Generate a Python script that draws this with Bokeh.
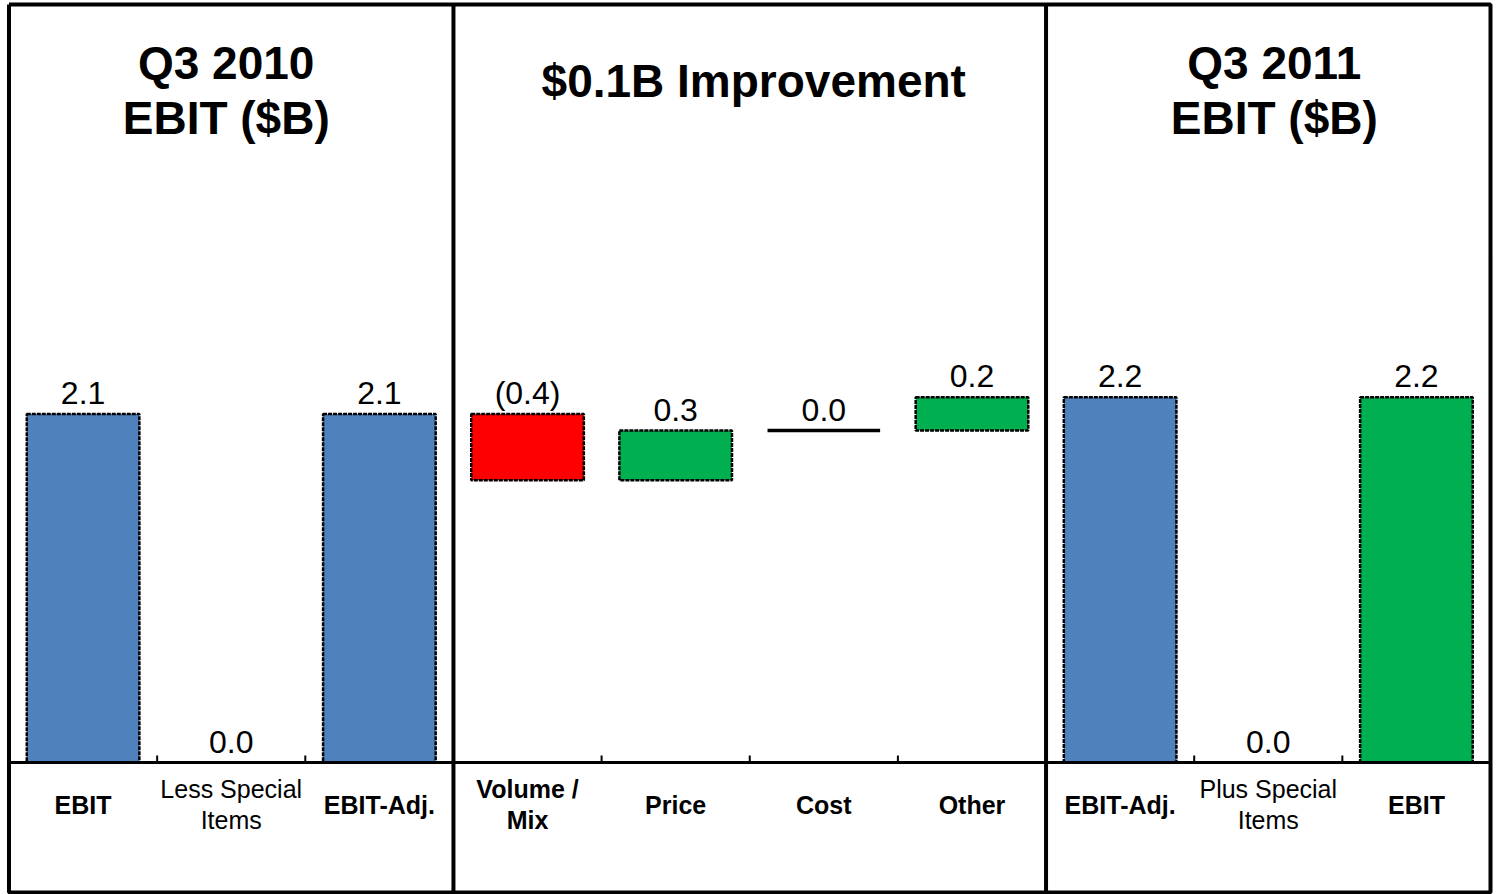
from bokeh.plotting import figure
from bokeh.models import Range1d, ColumnDataSource
from bokeh.core.properties import value
from bokeh.embed import file_html
from bokeh.resources import INLINE

# ---- data ($B) ----
panel_titles = ["Q3 2010\nEBIT ($B)", "$0.1B Improvement", "Q3 2011\nEBIT ($B)"]

q3_2010_labels = ["EBIT", "Less Special\nItems", "EBIT-Adj."]
q3_2010_values = [2.1, 0.0, 2.1]

bridge_labels = ["Volume /\nMix", "Price", "Cost", "Other"]
bridge_values = [-0.4, 0.3, 0.0, 0.2]

q3_2011_labels = ["EBIT-Adj.", "Plus Special\nItems", "EBIT"]
q3_2011_values = [2.2, 0.0, 2.2]

# ---- styling ----
FONT = "Liberation Sans"
BLUE = "#4F81BD"
GREEN = "#00B050"
RED = "#FF0000"

W, H = 1497, 894

# build bar geometry: outer panels rise from zero, the bridge floats from Q3 2010 EBIT-Adj.
xs, bottoms, tops, colors, texts, labels, label_styles = [], [], [], [], [], [], []

def fmt(v):
    return "(%.1f)" % abs(v) if v < 0 else "%.1f" % v

for i, (lab, v) in enumerate(zip(q3_2010_labels, q3_2010_values)):
    xs.append(len(xs)); bottoms.append(0.0); tops.append(v)
    colors.append(BLUE); texts.append(fmt(v)); labels.append(lab)
    label_styles.append("normal" if "Special" in lab else "bold")

running = q3_2010_values[-1]
for lab, v in zip(bridge_labels, bridge_values):
    xs.append(len(xs)); bottoms.append(running); tops.append(running + v)
    running += v
    colors.append(RED if v < 0 else GREEN); texts.append(fmt(v)); labels.append(lab)
    label_styles.append("bold")

for i, (lab, v) in enumerate(zip(q3_2011_labels, q3_2011_values)):
    xs.append(len(xs)); bottoms.append(0.0); tops.append(v)
    colors.append(GREEN if i == len(q3_2011_labels) - 1 else BLUE)
    texts.append(fmt(v)); labels.append(lab)
    label_styles.append("normal" if "Special" in lab else "bold")

n = len(xs)
upper = [max(b, t) for b, t in zip(bottoms, tops)]

# ---- scales: one unit per category, 166 px per $1B ----
px_per_cat = 148.15
px_per_b = 166.0
base_px = 762.0
left_px = 8.5
x0 = -0.5 - left_px / px_per_cat
x1 = x0 + W / px_per_cat
y1 = base_px / px_per_b
y0 = y1 - H / px_per_b

p = figure(width=W, height=H, output_backend="svg", toolbar_location=None,
           x_range=Range1d(x0, x1), y_range=Range1d(y0, y1),
           min_border=0, min_border_left=0, min_border_right=0,
           min_border_top=0, min_border_bottom=0)
p.axis.visible = False
p.grid.visible = False
p.outline_line_color = None
p.background_fill_color = "white"
p.border_fill_color = "white"

def py(px):
    return (base_px - px) / px_per_b

# bars
bar_idx = [i for i in range(n) if abs(tops[i] - bottoms[i]) > 1e-9]
flat_idx = [i for i in range(n) if abs(tops[i] - bottoms[i]) <= 1e-9 and bottoms[i] != 0]
bars = ColumnDataSource(dict(x=[xs[i] for i in bar_idx], bottom=[bottoms[i] for i in bar_idx],
                             top=[tops[i] for i in bar_idx], color=[colors[i] for i in bar_idx]))
p.vbar(x="x", bottom="bottom", top="top", width=0.76, fill_color="color",
       line_color="black", line_width=2.5, line_dash="4 1", source=bars)

# zero-change steps in the bridge drawn as a flat line
flat = ColumnDataSource(dict(x0=[xs[i] - 0.38 for i in flat_idx], x1=[xs[i] + 0.38 for i in flat_idx],
                             y=[tops[i] for i in flat_idx]))
p.segment(x0="x0", y0="y", x1="x1", y1="y", line_color="black", line_width=3.5, source=flat)

# baseline and small category ticks
p.segment(x0=[-0.5], y0=[0], x1=[n - 0.5], y1=[0], line_color="black", line_width=3)
tick_x = [i + 0.5 for i in range(n - 1)]
p.segment(x0=tick_x, y0=[0] * len(tick_x), x1=tick_x, y1=[py(base_px - 7)] * len(tick_x),
          line_color="black", line_width=2)

# frame and panel dividers
top_y, bot_y = py(4), py(892)
p.multi_line(xs=[[-0.5, n - 0.5, n - 0.5, -0.5, -0.5]], ys=[[top_y, top_y, bot_y, bot_y, top_y]],
             line_color="black", line_width=4)
split_a = len(q3_2010_labels) - 0.5
split_b = len(q3_2010_labels) + len(bridge_labels) - 0.5
p.segment(x0=[split_a, split_b], y0=[top_y] * 2, x1=[split_a, split_b], y1=[bot_y] * 2,
          line_color="black", line_width=4)

# value labels above each bar
vals = ColumnDataSource(dict(x=xs, y=upper, text=texts))
p.text(x="x", y="y", text="text", source=vals, text_align="center", text_baseline="middle",
       y_offset=-21, text_font=value(FONT), text_font_size="32px", text_color="black")

# category labels under the baseline
for style in ("bold", "normal"):
    idx = [i for i in range(n) if label_styles[i] == style]
    src = ColumnDataSource(dict(x=[xs[i] for i in idx], y=[py(804)] * len(idx),
                                text=[labels[i] for i in idx]))
    p.text(x="x", y="y", text="text", source=src, text_align="center", text_baseline="middle",
           text_font=value(FONT), text_font_size="25px", text_font_style=style,
           text_color="black", text_line_height=1.08)

# panel titles
centers = [(len(q3_2010_labels) - 1) / 2,
           len(q3_2010_labels) + (len(bridge_labels) - 1) / 2,
           len(q3_2010_labels) + len(bridge_labels) + (len(q3_2011_labels) - 1) / 2]
title_y = [py(90), py(80), py(90)]
p.text(x=centers, y=title_y, text=panel_titles, text_align="center", text_baseline="middle",
       x_offset=[-5, 4, 6], text_font=value(FONT), text_font_size="46px",
       text_font_style="bold", text_color="black", text_line_height=1.05)

open("out.html", "w").write(file_html(p, INLINE))
